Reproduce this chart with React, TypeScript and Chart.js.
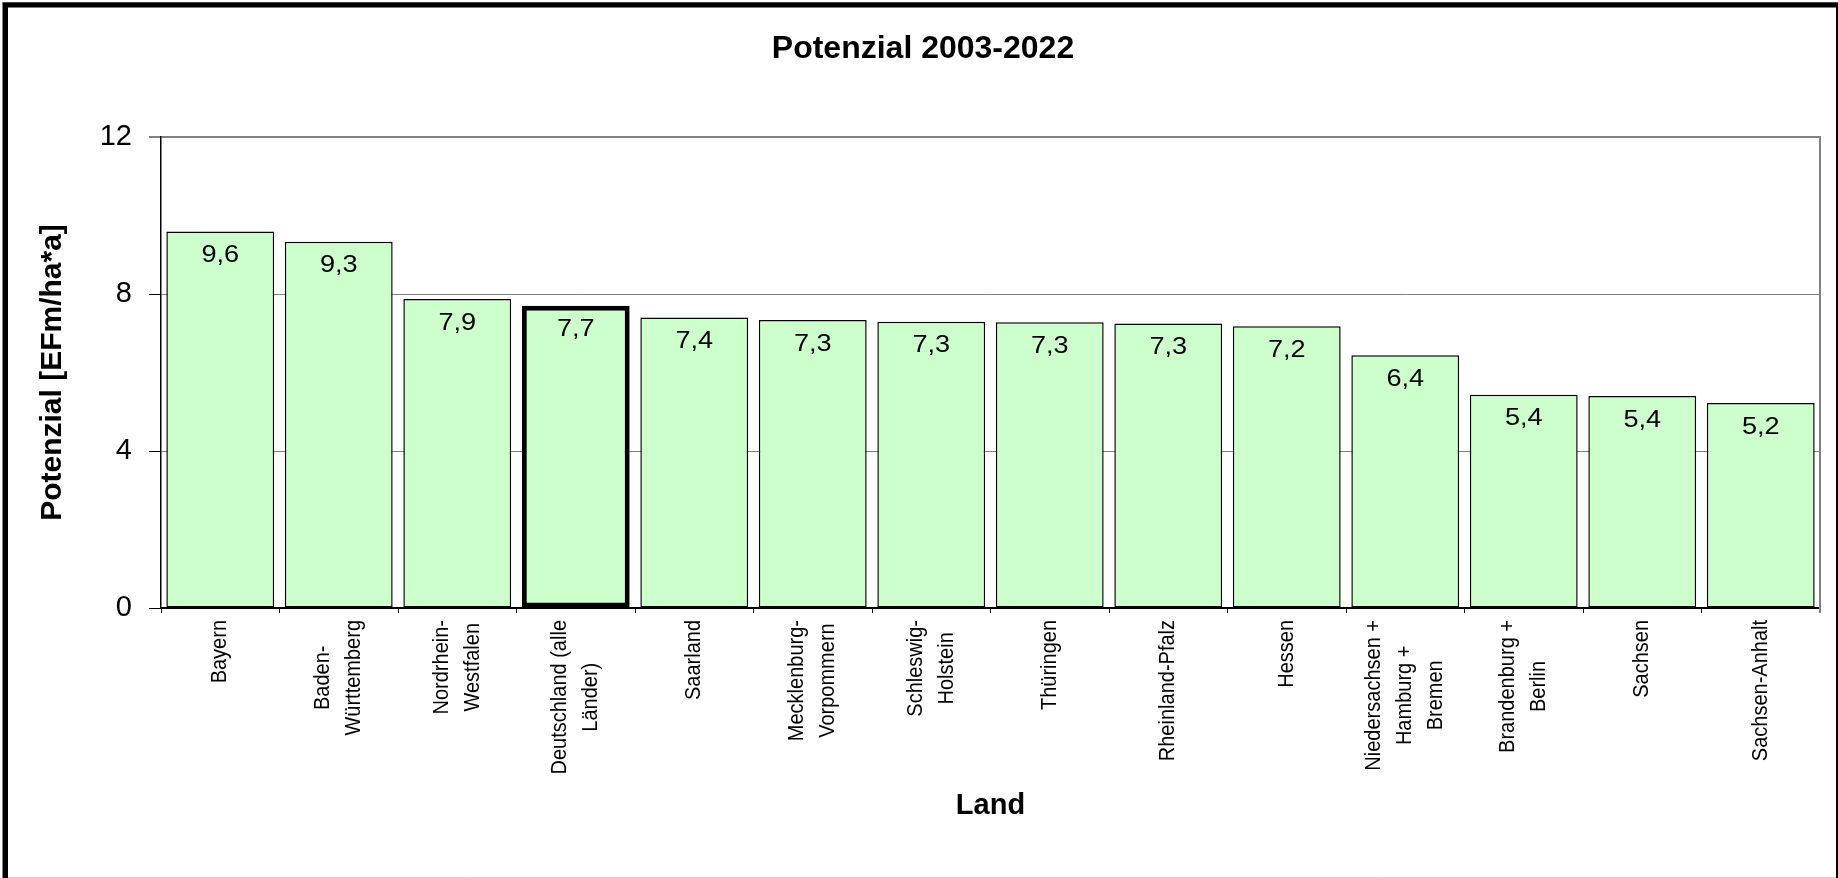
import React, { useEffect, useRef } from "react";
import { Chart, registerables } from "chart.js";

Chart.register(...registerables);

const chartTitle = "Potenzial 2003-2022";
const yAxisTitle = "Potenzial [EFm/ha*a]";
const xAxisTitle = "Land";

const categories: string[][] = [
  ["Bayern"],
  ["Baden-", "Württemberg"],
  ["Nordrhein-", "Westfalen"],
  ["Deutschland (alle", "Länder)"],
  ["Saarland"],
  ["Mecklenburg-", "Vorpommern"],
  ["Schleswig-", "Holstein"],
  ["Thüringen"],
  ["Rheinland-Pfalz"],
  ["Hessen"],
  ["Niedersachsen +", "Hamburg +", "Bremen"],
  ["Brandenburg +", "Berlin"],
  ["Sachsen"],
  ["Sachsen-Anhalt"],
];

const potenzial: number[] = [9.59, 9.33, 7.87, 7.7, 7.4, 7.34, 7.29, 7.28, 7.25, 7.18, 6.44, 5.43, 5.4, 5.22];

const yMin = 0;
const yMax = 12;
const yStep = 4;
const highlightIndex = 3;

const FONT = "'Liberation Sans', Arial, Helvetica, sans-serif";
const STRETCH = 1.13;

const fmt = (v: number) => v.toFixed(1).replace(".", ",");

const backgroundPlugin = {
  id: "bgWhite",
  beforeDraw(chart: any) {
    const { ctx, width, height } = chart;
    ctx.save();
    ctx.fillStyle = "#ffffff";
    ctx.fillRect(0, 0, width, height);
    ctx.restore();
  },
};

const plotEdgePlugin = {
  id: "plotEdge",
  beforeDatasetsDraw(chart: any) {
    const { ctx, chartArea } = chart;
    ctx.save();
    ctx.strokeStyle = "#808080";
    ctx.lineWidth = 2;
    ctx.beginPath();
    ctx.moveTo(chartArea.right, chartArea.top - 1);
    ctx.lineTo(chartArea.right, chartArea.bottom + 5);
    ctx.stroke();
    ctx.restore();
  },
};

const valueLabelPlugin = {
  id: "valueLabels",
  afterDatasetsDraw(chart: any) {
    const { ctx } = chart;
    const meta = chart.getDatasetMeta(0);
    ctx.save();
    ctx.font = `24px ${FONT}`;
    ctx.fillStyle = "#000";
    ctx.textAlign = "center";
    ctx.textBaseline = "middle";
    meta.data.forEach((bar: any, i: number) => {
      ctx.save();
      ctx.translate(bar.x, bar.y + 24);
      ctx.scale(STRETCH, 1);
      ctx.fillText(fmt(potenzial[i]), 0, 0);
      ctx.restore();
    });
    ctx.restore();
  },
};

const xLabelPlugin = {
  id: "xLabels",
  afterDraw(chart: any) {
    const { ctx } = chart;
    const xs = chart.scales.x;
    const topY = xs.top + 12;
    const spacing = 31 / STRETCH;
    ctx.save();
    ctx.font = `20px ${FONT}`;
    ctx.fillStyle = "#000";
    ctx.textAlign = "center";
    ctx.textBaseline = "middle";
    categories.forEach((lines, i) => {
      const cx = xs.getPixelForValue(i);
      const w = Math.max(...lines.map((l) => ctx.measureText(l).width));
      ctx.save();
      ctx.translate(cx, topY);
      ctx.scale(STRETCH, 1);
      ctx.rotate(-Math.PI / 2);
      lines.forEach((line, k) => {
        const off = (k - (lines.length - 1) / 2) * spacing;
        ctx.fillText(line, -w / 2, off);
      });
      ctx.restore();
    });
    ctx.restore();
  },
};

const framePlugin = {
  id: "frame",
  afterDraw(chart: any) {
    const { ctx, width, height } = chart;
    ctx.save();
    ctx.strokeStyle = "#d4d4d4";
    ctx.lineWidth = 1;
    ctx.beginPath();
    ctx.moveTo(8, height - 0.5);
    ctx.lineTo(width, height - 0.5);
    ctx.stroke();
    ctx.strokeStyle = "#808080";
    ctx.strokeRect(2.5, 2.5, width + 10, height + 10);
    ctx.strokeStyle = "#000";
    ctx.lineWidth = 5;
    ctx.strokeRect(5.5, 5, width - 5.5 + 0.5, height + 20);
    ctx.restore();
  },
};

export default function App() {
  const canvasRef = useRef<HTMLCanvasElement | null>(null);

  useEffect(() => {
    if (!canvasRef.current) return;
    const chart = new Chart(canvasRef.current, {
      type: "bar",
      data: {
        labels: categories.map((c) => c.join(" ")),
        datasets: [
          {
            label: "Potenzial",
            data: potenzial,
            backgroundColor: "#CCFFCC",
            borderColor: "#000000",
            borderWidth: (c: any) => (c.dataIndex === highlightIndex ? 5 : 1.5),
            borderSkipped: false,
            barPercentage: 0.91,
            categoryPercentage: 1,
          },
        ],
      },
      options: {
        responsive: false,
        maintainAspectRatio: false,
        animation: false,
        layout: { padding: { left: 26, right: 18, top: 0, bottom: 0 } },
        plugins: {
          legend: { display: false },
          tooltip: { enabled: false },
          title: {
            display: true,
            text: chartTitle,
            color: "#000",
            font: { family: FONT, size: 32, weight: "bold", lineHeight: 1.2 },
            padding: { top: 29.8, bottom: 68.8 },
          },
        },
        scales: {
          x: {
            type: "category",
            offset: true,
            afterFit(scale: any) {
              scale.height = 270;
            },
            ticks: { display: false },
            grid: {
              offset: true,
              drawOnChartArea: false,
              drawTicks: true,
              tickLength: 5,
              color: "#000",
              lineWidth: 1,
            },
            border: { display: true, color: "#000", width: 2 },
            title: {
              display: true,
              text: xAxisTitle,
              color: "#000",
              font: { family: FONT, size: 29, weight: "bold", lineHeight: 1.2 },
              padding: { top: 0, bottom: 54.6 },
            },
          },
          y: {
            min: yMin,
            max: yMax,
            afterFit(scale: any) {
              scale.width = 135;
            },
            ticks: {
              stepSize: yStep,
              color: "#000",
              padding: 17,
              font: { family: FONT, size: 29 },
            },
            grid: {
              color: (c: any) => (c.tick && c.tick.value === 0 ? "#000" : "#808080"),
              lineWidth: (c: any) => (c.tick && c.tick.value === yMax ? 2 : 1),
              tickColor: "#000",
              tickLength: 12,
              tickWidth: 1,
            },
            border: { display: true, color: "#000", width: 1.5 },
            title: {
              display: true,
              text: yAxisTitle,
              color: "#000",
              font: { family: FONT, size: 30, weight: "bold", lineHeight: 1.2 },
              padding: { top: 9, bottom: 0 },
            },
          },
        },
      } as any,
      plugins: [backgroundPlugin, plotEdgePlugin, valueLabelPlugin, xLabelPlugin, framePlugin],
    });
    return () => chart.destroy();
  }, []);

  return (
    <div style={{ position: "fixed", left: 0, top: 0, width: 1838, height: 878, background: "#fff" }}>
      <canvas ref={canvasRef} width={1838} height={878} style={{ display: "block", width: 1838, height: 878 }} />
    </div>
  );
}
